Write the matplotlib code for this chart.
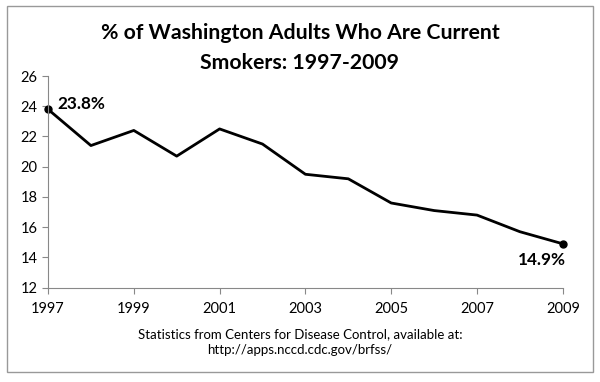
import matplotlib.pyplot as plt
from matplotlib.patches import Rectangle

years = [1997, 1998, 1999, 2000, 2001, 2002, 2003, 2004, 2005, 2006, 2007, 2008, 2009]
smokers = [23.8, 21.4, 22.4, 20.7, 22.5, 21.5, 19.5, 19.2, 17.6, 17.1, 16.8, 15.7, 14.9]
xticks = [1997, 1999, 2001, 2003, 2005, 2007, 2009]
yticks = [12, 14, 16, 18, 20, 22, 24, 26]

plt.rcParams['font.family'] = ['Lato', 'DejaVu Sans']

fig = plt.figure(figsize=(6, 3.82), dpi=100)
ax = fig.add_axes([0.08, 0.247, 0.858, 0.554])

ax.plot(years, smokers, color='black', lw=2)
ax.plot([years[0], years[-1]], [smokers[0], smokers[-1]], 'o', color='black',
        ms=5, clip_on=False)

ax.annotate('%.1f%%' % smokers[0], (years[0], smokers[0]), xytext=(7, -2),
            textcoords='offset points', ha='left', va='bottom',
            fontsize=12.3, fontweight='bold')
ax.annotate('%.1f%%' % smokers[-1], (years[-1], smokers[-1]), xytext=(2, -6),
            textcoords='offset points', ha='right', va='top',
            fontsize=12.3, fontweight='bold')

ax.set_xlim(1997, 2009)
ax.set_ylim(12, 26)
ax.set_xticks(xticks)
ax.set_yticks(yticks)
ax.tick_params(colors='#888888', labelcolor='black', labelsize=10.5, length=4)
ax.tick_params(axis='x', pad=6)
for s in ['top', 'right']:
    ax.spines[s].set_visible(False)
for s in ['left', 'bottom']:
    ax.spines[s].set_color('#888888')

# title, two lines
fig.text(0.5, 0.898, '% of Washington Adults Who Are Current',
         ha='center', va='baseline', fontsize=15.3, fontweight='bold')
fig.text(0.5, 0.819, 'Smokers: 1997-2009',
         ha='center', va='baseline', fontsize=15.3, fontweight='bold')

# source note
fig.text(0.5, 0.115, 'Statistics from Centers for Disease Control, available at:',
         ha='center', va='baseline', fontsize=9.5)
fig.text(0.5, 0.073, 'http://apps.nccd.cdc.gov/brfss/',
         ha='center', va='baseline', fontsize=9.5)

fig.patches.append(Rectangle((0.012, 0.027), 0.976, 0.957, transform=fig.transFigure,
                             fill=False, edgecolor='#999999', lw=1))

fig.savefig('out.png', dpi=100)
